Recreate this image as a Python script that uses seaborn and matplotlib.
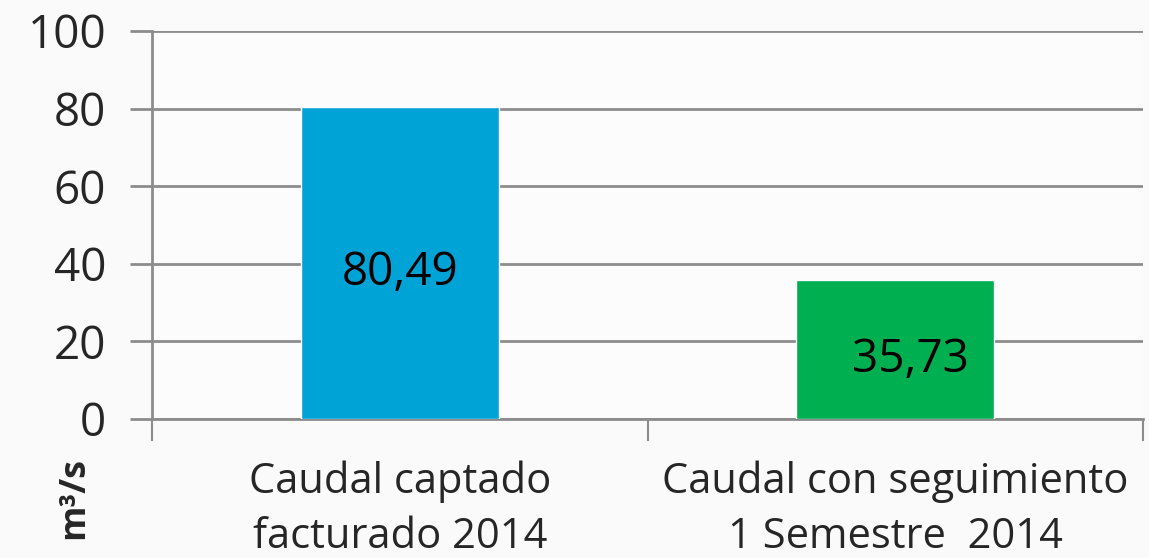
import numpy as np
import matplotlib.pyplot as plt
import seaborn as sns
import pandas as pd

# valores del grafico
categorias = ["Caudal captado\nfacturado 2014", "Caudal con seguimiento\n1 Semestre  2014"]
valores = [80.49, 35.73]
etiquetas = ["80,49", "35,73"]
colores = ["#00A3D6", "#00AF50"]
yticks = [0, 20, 40, 60, 80, 100]

sns.set_style("white")
plt.rcParams['font.family'] = ['Open Sans', 'DejaVu Sans']

df = pd.DataFrame({"cat": categorias, "val": valores})

fig = plt.figure(figsize=(11.49, 5.58), dpi=100, facecolor="#fafafa")
ax = fig.add_axes([152 / 1149, 1 - 419 / 558, (1143 - 152) / 1149, (419 - 31) / 558])
ax.set_facecolor("#fcfcfc")

sns.barplot(data=df, x="cat", y="val", hue="cat", palette=colores, width=0.4,
            legend=False, ax=ax, saturation=1, zorder=3)

ax.set_ylim(0, 100)
ax.set_xlim(-0.5, 1.5)
ax.set_yticks(yticks)
ax.yaxis.grid(True, color="#8c8c8c", linewidth=2, zorder=0)
ax.set_axisbelow(True)
ax.tick_params(axis="y", labelsize=33, length=16, width=2, color="#8c8c8c", pad=17, direction="out", left=True)
ax.tick_params(axis="x", which="major", labelsize=30, length=0, pad=30)
for lbl in ax.get_xticklabels():
    lbl.set_linespacing(1.4)
ax.set_xticks([-0.5, 0.5, 1.5], minor=True)
ax.tick_params(axis="x", which="minor", length=16, width=1.5, color="#8c8c8c", bottom=True)

for s in ["top", "right"]:
    ax.spines[s].set_visible(False)
for s in ["left", "bottom"]:
    ax.spines[s].set_color("#8c8c8c")
    ax.spines[s].set_linewidth(2)

ax.set_xlabel("")
ax.set_ylabel("")

# etiquetas de datos
offs = [0, 0.03]
ypos = [valores[0] / 2 - 2.5, valores[1] / 2 - 2.7]
for i, t in enumerate(etiquetas):
    ax.text(i + offs[i], ypos[i], t, ha="center", va="center", fontsize=33, color="black", zorder=4)

fig.text(74 / 1149, 1 - 498 / 558, "m³/s", rotation=90, ha="center", va="center",
         fontsize=26, fontweight="bold")

plt.savefig("out.png", dpi=100, facecolor=fig.get_facecolor())
